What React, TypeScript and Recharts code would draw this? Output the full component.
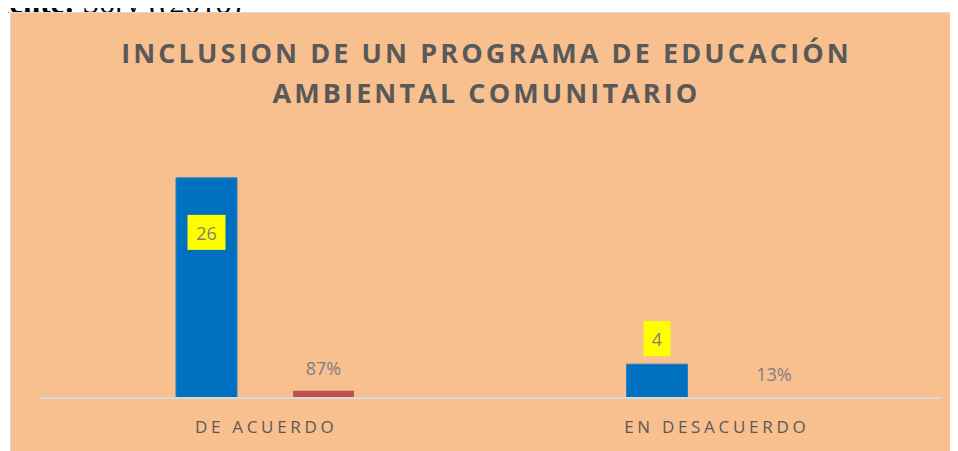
import React from "react";
import { BarChart, Bar, XAxis, YAxis, LabelList } from "recharts";

const categories = ["DE ACUERDO", "EN DESACUERDO"];
const cantidad = [26, 4];
const porcentaje = [0.87, 0.13];
const titleLines = ["INCLUSION DE UN PROGRAMA DE EDUCACIÓN", "AMBIENTAL COMUNITARIO"];
const sourceLabel = "Fuente:";
const sourceText = " Sory ((2018)";

const data = categories.map((c, i) => ({ name: c, cantidad: cantidad[i], porcentaje: porcentaje[i] }));

const FONT = "'Open Sans', 'Noto Sans', sans-serif";

const CountLabel = (props: any) => {
  const { x, y, width, value, index } = props;
  const cx = x + width / 2;
  const w = String(value).length > 1 ? 38 : 27;
  const h = 35;
  const top = index === 0 ? y + 37 : y - 8 - h;
  return (
    <g>
      <rect x={cx - w / 2} y={top} width={w} height={h} fill="#FFFF00" />
      <text x={cx} y={top + h / 2 + 7.5} textAnchor="middle" fill="#7F7F7F" fontSize={18} fontFamily={FONT}>
        {value}
      </text>
    </g>
  );
};

const PctLabel = (props: any) => {
  const { x, y, width, value } = props;
  const cx = x + width / 2;
  return (
    <text x={cx} y={y - 16} textAnchor="middle" fill="#7F7F7F" fontSize={18} fontFamily={FONT}>
      {Math.round(value * 100) + "%"}
    </text>
  );
};

const CatTick = (props: any) => {
  const { x, y, payload } = props;
  return (
    <text x={x + 1} y={y + 27} textAnchor="middle" fill="#595959" fontSize={17} fontFamily={FONT} letterSpacing={3.7}>
      {payload.value}
    </text>
  );
};

export default function App() {
  return (
    <div style={{ position: "relative", width: 942, height: 445 }}>
      <div
        style={{
          position: "absolute",
          left: -35,
          top: -21,
          fontFamily: "'Liberation Serif', 'Times New Roman', serif",
          fontSize: 31,
          lineHeight: "31px",
          whiteSpace: "nowrap",
          color: "#000",
        }}
      >
        <b>{sourceLabel}</b>
        {sourceText}
      </div>
      <div
        style={{
          position: "absolute",
          left: 2,
          top: 4,
          width: 960,
          height: 450,
          border: "1px solid #D9D9D9",
          background: "#F9C08F",
          overflow: "hidden",
        }}
      >
        <div
          style={{
            position: "absolute",
            left: 0,
            top: 20,
            width: 951,
            textAlign: "center",
            fontFamily: FONT,
            fontWeight: 700,
            fontSize: 27,
            lineHeight: "40px",
            letterSpacing: 3.1,
            color: "#595959",
          }}
        >
          {titleLines.map((t) => (
            <div key={t}>{t}</div>
          ))}
        </div>
        <BarChart
          width={947}
          height={438}
          data={data}
          margin={{ top: 131, right: 17, left: 29, bottom: 0 }}
          barCategoryGap={136}
          barGap={56}
        >
          <XAxis
            dataKey="name"
            axisLine={{ stroke: "#D9D9D9", strokeWidth: 2 }}
            tickLine={false}
            tick={<CatTick />}
            height={53}
            interval={0}
          />
          <YAxis hide domain={[0, 30]} />
          <Bar dataKey="cantidad" fill="#0070C0" stroke="#2F7FC0" strokeWidth={1} isAnimationActive={false}>
            <LabelList dataKey="cantidad" content={<CountLabel />} />
          </Bar>
          <Bar dataKey="porcentaje" fill="#C0504D" isAnimationActive={false}>
            <LabelList dataKey="porcentaje" content={<PctLabel />} />
          </Bar>
        </BarChart>
      </div>
    </div>
  );
}
